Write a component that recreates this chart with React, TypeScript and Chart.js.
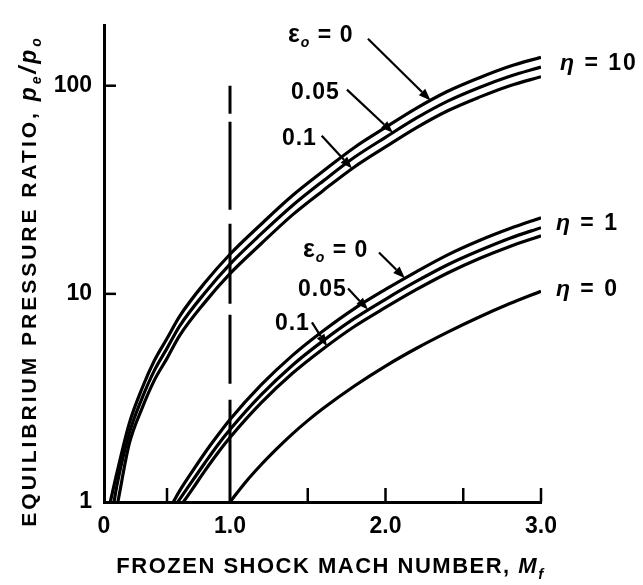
import React, { useEffect, useRef } from 'react';
import { Chart, registerables, LinearScale } from 'chart.js';

Chart.register(...registerables);

// ---------------- data ----------------
// eta = 10 family
const MACH_ETA10_EPS0 = [0.05, 0.1, 0.2, 0.3, 0.4, 0.5, 0.6, 0.8, 1.0, 1.2, 1.4, 1.6, 1.8, 2.0, 2.2, 2.4, 2.6, 2.8, 3.0];
const P_ETA10_EPS0 = [1.0, 1.36, 2.38, 3.49, 4.78, 6.1, 7.8, 11.3, 15.5, 21.6, 29.6, 38.9, 50.5, 63, 78, 94, 109, 124, 137];
const MACH_ETA10_EPS005 = [0.08, 0.1, 0.2, 0.3, 0.4, 0.5, 0.6, 0.8, 1.0, 1.2, 1.4, 1.6, 1.8, 2.0, 2.2, 2.4, 2.6, 2.8, 3.0];
const P_ETA10_EPS005 = [1.0, 1.18, 2.13, 3.13, 4.29, 5.47, 7.0, 10.1, 13.9, 19.4, 26.5, 34.9, 45.3, 56.5, 70, 84.3, 97.8, 111, 123];
const MACH_ETA10_EPS01 = [0.11, 0.2, 0.3, 0.4, 0.5, 0.6, 0.8, 1.0, 1.2, 1.4, 1.6, 1.8, 2.0, 2.2, 2.4, 2.6, 2.8, 3.0];
const P_ETA10_EPS01 = [1.0, 1.9, 2.8, 3.85, 4.9, 6.3, 9.1, 12.5, 17.4, 23.9, 31.4, 40.7, 50.8, 62.9, 75.8, 87.9, 100, 110.5];

// eta = 1 family
const MACH_ETA1_EPS0 = [0.55, 0.6, 0.7, 0.8, 0.9, 1.0, 1.2, 1.4, 1.6, 1.8, 2.0, 2.2, 2.4, 2.6, 2.8, 3.0];
const P_ETA1_EPS0 = [1.0, 1.13, 1.4, 1.72, 2.08, 2.49, 3.65, 5.05, 6.65, 8.5, 10.5, 12.8, 15.4, 18.0, 20.6, 23.2];
const MACH_ETA1_EPS005 = [0.585, 0.6, 0.7, 0.8, 0.9, 1.0, 1.2, 1.4, 1.6, 1.8, 2.0, 2.2, 2.4, 2.6, 2.8, 3.0];
const P_ETA1_EPS005 = [1.0, 1.03, 1.26, 1.54, 1.87, 2.23, 3.27, 4.53, 5.96, 7.62, 9.42, 11.5, 13.8, 16.1, 18.5, 20.8];
const MACH_ETA1_EPS01 = [0.63, 0.7, 0.8, 0.9, 1.0, 1.2, 1.4, 1.6, 1.8, 2.0, 2.2, 2.4, 2.6, 2.8, 3.0];
const P_ETA1_EPS01 = [1.0, 1.15, 1.41, 1.71, 2.04, 2.99, 4.14, 5.45, 6.97, 8.6, 10.5, 12.6, 14.75, 16.9, 19.0];

// eta = 0
const MACH_ETA0 = [1.0, 1.1, 1.2, 1.3, 1.4, 1.5, 1.6, 1.8, 2.0, 2.2, 2.4, 2.6, 2.8, 3.0];
const P_ETA0 = [1.0, 1.245, 1.51, 1.8, 2.12, 2.46, 2.82, 3.61, 4.5, 5.48, 6.55, 7.72, 8.98, 10.3];

// sonic (M = 1) dashed reference line
const SONIC_X = [1.0, 1.0];
const SONIC_Y = [100, 1];

// ticks
const X_TICKS = [0, 0.5, 1.0, 1.5, 2.0, 2.5, 3.0];
const X_TICK_LABELS = ['0', '', '1.0', '', '2.0', '', '3.0'];
const Y_TICKS = [1, 10, 100];
const Y_TICK_LABELS = ['1', '10', '100'];

// labels
const EPS_LABELS = ['0', '0.05', '0.1'];
const ETA_LABELS = ['10', '1', '0'];

// annotation anchors, in data units (Mach, pressure ratio); label anchor = left end of text baseline
const UPPER_ANNOT = [
  { label: [1.373, 163], from: [1.887, 168], to: [2.29, 85] },
  { label: [1.392, 85.9], from: [1.752, 95.7], to: [2.048, 59.5] },
  { label: [1.334, 52.1], from: [1.59, 57.5], to: [1.785, 40] },
];
const LOWER_ANNOT = [
  { label: [1.469, 15.1], from: [1.958, 15.8], to: [2.125, 11.9] },
  { label: [1.437, 9.79], from: [1.759, 10.6], to: [1.887, 8.4] },
  { label: [1.289, 6.69], from: [1.527, 7.3], to: [1.624, 5.6] },
];
const ETA_ANCHORS = [[3.122, 119], [3.096, 20.3], [3.096, 9.79]];

// ---------------- piecewise x scale (figure's x axis is stretched above M = 1) ----------------
const X_BREAK = 1.0;
const X_BREAK_FRACTION = 126 / 437;

class PiecewiseScale extends LinearScale {
  static id = 'piecewise';
  toDecimal(v: number) {
    const min = (this as any).min;
    const max = (this as any).max;
    if (v <= X_BREAK) return ((v - min) / (X_BREAK - min)) * X_BREAK_FRACTION;
    return X_BREAK_FRACTION + ((v - X_BREAK) / (max - X_BREAK)) * (1 - X_BREAK_FRACTION);
  }
  getPixelForValue(value: number) {
    if (value === null || value === undefined || isNaN(value)) return NaN;
    return (this as any).getPixelForDecimal(this.toDecimal(value));
  }
  getValueForPixel(pixel: number) {
    const d = (this as any).getDecimalForPixel(pixel);
    const min = (this as any).min;
    const max = (this as any).max;
    if (d <= X_BREAK_FRACTION) return min + (d / X_BREAK_FRACTION) * (X_BREAK - min);
    return X_BREAK + ((d - X_BREAK_FRACTION) / (1 - X_BREAK_FRACTION)) * (max - X_BREAK);
  }
}
Chart.register(PiecewiseScale as any);

const FONT = '"Liberation Sans", Arial, sans-serif';
const pts = (xs: number[], ys: number[]) => xs.map((x, i) => ({ x, y: ys[i] }));

function drawParts(
  ctx: CanvasRenderingContext2D,
  x: number,
  y: number,
  parts: { t: string; f: string; dy?: number }[],
  align: 'left' | 'center' = 'left',
) {
  let total = 0;
  for (const p of parts) {
    ctx.font = p.f;
    total += ctx.measureText(p.t).width;
  }
  let cx = align === 'center' ? x - total / 2 : x;
  for (const p of parts) {
    ctx.font = p.f;
    ctx.fillText(p.t, cx, y + (p.dy || 0));
    cx += ctx.measureText(p.t).width;
  }
}

function arrow(ctx: CanvasRenderingContext2D, x1: number, y1: number, x2: number, y2: number) {
  const ang = Math.atan2(y2 - y1, x2 - x1);
  const hl = 12;
  const hw = 4.5;
  const bx = x2 - hl * Math.cos(ang);
  const by = y2 - hl * Math.sin(ang);
  ctx.beginPath();
  ctx.moveTo(x1, y1);
  ctx.lineTo(bx, by);
  ctx.lineWidth = 2.2;
  ctx.stroke();
  ctx.beginPath();
  ctx.moveTo(x2, y2);
  ctx.lineTo(bx + hw * Math.sin(ang), by - hw * Math.cos(ang));
  ctx.lineTo(bx - hw * Math.sin(ang), by + hw * Math.cos(ang));
  ctx.closePath();
  ctx.fill();
}

const decorPlugin = {
  id: 'decor',
  afterDraw(chart: any) {
    const { ctx, chartArea } = chart;
    const xs = chart.scales.x;
    const ys = chart.scales.y;
    ctx.save();
    ctx.strokeStyle = '#000';
    ctx.fillStyle = '#000';
    ctx.lineCap = 'butt';

    // inward tick marks
    ctx.lineWidth = 2.5;
    for (const v of X_TICKS) {
      if (v === 0 || v === 1) continue;
      const px = xs.getPixelForValue(v);
      ctx.beginPath();
      ctx.moveTo(px, chartArea.bottom);
      ctx.lineTo(px, chartArea.bottom - 14);
      ctx.stroke();
    }
    for (const v of Y_TICKS) {
      if (v === 1) continue;
      const py = ys.getPixelForValue(v);
      ctx.beginPath();
      ctx.moveTo(chartArea.left, py);
      ctx.lineTo(chartArea.left + 12, py);
      ctx.stroke();
    }

    const main = `bold 23px ${FONT}`;
    const sub = `italic bold 14px ${FONT}`;
    ctx.textBaseline = 'alphabetic';
    (ctx as any).letterSpacing = '1px';

    const groups = [UPPER_ANNOT, LOWER_ANNOT];
    for (const g of groups) {
      g.forEach((a, i) => {
        const lx = xs.getPixelForValue(a.label[0]);
        const ly = ys.getPixelForValue(a.label[1]);
        if (i === 0) {
          drawParts(ctx, lx, ly, [
            { t: 'ε', f: `bold 25px ${FONT}` },
            { t: 'o', f: sub, dy: 5 },
            { t: ' = ' + EPS_LABELS[0], f: main },
          ]);
        } else {
          drawParts(ctx, lx, ly, [{ t: EPS_LABELS[i], f: main }]);
        }
        arrow(
          ctx,
          xs.getPixelForValue(a.from[0]),
          ys.getPixelForValue(a.from[1]),
          xs.getPixelForValue(a.to[0]),
          ys.getPixelForValue(a.to[1]),
        );
      });
    }

    (ctx as any).letterSpacing = '2px';
    ETA_ANCHORS.forEach((p, i) => {
      drawParts(ctx, xs.getPixelForValue(p[0]), ys.getPixelForValue(p[1]), [
        { t: 'η', f: `italic bold 23px ${FONT}` },
        { t: ' = ' + ETA_LABELS[i], f: main },
      ]);
    });

    // x-axis title
    (ctx as any).letterSpacing = '1.5px';
    const xMid = (chartArea.left + chartArea.right) / 2 + 8;
    drawParts(
      ctx,
      xMid,
      chartArea.bottom + 71,
      [
        { t: 'FROZEN SHOCK MACH NUMBER, ', f: `bold 22px ${FONT}` },
        { t: 'M', f: `italic bold 22px ${FONT}` },
        { t: 'f', f: `italic bold 15px ${FONT}`, dy: 6 },
      ],
      'center',
    );

    // y-axis title
    ctx.save();
    ctx.translate(36, (chartArea.top + chartArea.bottom) / 2 + 17);
    ctx.rotate(-Math.PI / 2);
    (ctx as any).letterSpacing = '3px';
    drawParts(
      ctx,
      0,
      0,
      [
        { t: 'EQUILIBRIUM PRESSURE RATIO, ', f: `bold 21px ${FONT}` },
        { t: 'p', f: `italic bold 23px ${FONT}` },
        { t: 'e', f: `italic bold 14px ${FONT}`, dy: 5 },
        { t: '/', f: `italic bold 24px ${FONT}` },
        { t: 'p', f: `italic bold 23px ${FONT}` },
        { t: 'o', f: `italic bold 14px ${FONT}`, dy: 5 },
      ],
      'center',
    );
    ctx.restore();

    ctx.restore();
  },
};

const curveStyle = {
  borderColor: '#000',
  borderWidth: 3.2,
  pointRadius: 0,
  fill: false,
  cubicInterpolationMode: 'monotone' as const,
};

export default function App() {
  const ref = useRef<HTMLCanvasElement>(null);
  useEffect(() => {
    const canvas = ref.current;
    if (!canvas) return;
    const chart = new Chart(canvas, {
      type: 'line',
      data: {
        datasets: [
          { ...curveStyle, data: pts(MACH_ETA10_EPS0, P_ETA10_EPS0) },
          { ...curveStyle, data: pts(MACH_ETA10_EPS005, P_ETA10_EPS005) },
          { ...curveStyle, data: pts(MACH_ETA10_EPS01, P_ETA10_EPS01) },
          { ...curveStyle, data: pts(MACH_ETA1_EPS0, P_ETA1_EPS0) },
          { ...curveStyle, data: pts(MACH_ETA1_EPS005, P_ETA1_EPS005) },
          { ...curveStyle, data: pts(MACH_ETA1_EPS01, P_ETA1_EPS01) },
          { ...curveStyle, data: pts(MACH_ETA0, P_ETA0) },
          {
            ...curveStyle,
            cubicInterpolationMode: 'default' as const,
            tension: 0,
            borderWidth: 3,
            borderDash: [28, 8, 88, 14, 80, 11, 69, 16, 120],
            data: pts(SONIC_X, SONIC_Y),
          },
        ],
      } as any,
      options: {
        animation: false,
        responsive: false,
        devicePixelRatio: 1,
        layout: { padding: { left: 0, right: 102, top: 17, bottom: 0 }, autoPadding: false } as any,
        plugins: { legend: { display: false }, tooltip: { enabled: false } },
        scales: {
          x: {
            type: 'piecewise' as any,
            min: 0,
            max: 3,
            bounds: 'data',
            grid: { display: false, drawTicks: false },
            border: { display: true, color: '#000', width: 3 },
            ticks: {
              autoSkip: false,
              maxRotation: 0,
              padding: 11,
              color: '#000',
              font: { family: FONT, size: 23, weight: 'bold' },
              callback: (_v: any, i: number) => X_TICK_LABELS[i],
            },
            afterBuildTicks: (s: any) => {
              s.ticks = X_TICKS.map((v) => ({ value: v }));
            },
            afterFit: (s: any) => {
              s.height = 83;
            },
          } as any,
          y: {
            type: 'logarithmic',
            min: 1,
            max: 194,
            bounds: 'data',
            grid: { display: false, drawTicks: false },
            border: { display: true, color: '#000', width: 3 },
            ticks: {
              autoSkip: false,
              padding: 12,
              color: '#000',
              font: { family: FONT, size: 23, weight: 'bold' },
              callback: (_v: any, i: number) => Y_TICK_LABELS[i],
            },
            afterBuildTicks: (s: any) => {
              s.ticks = Y_TICKS.map((v) => ({ value: v }));
            },
            afterFit: (s: any) => {
              s.width = 104;
            },
          } as any,
        },
      },
      plugins: [decorPlugin],
    });
    return () => chart.destroy();
  }, []);
  return (
    <div style={{ position: 'absolute', left: 0, top: 0, width: 643, height: 585, background: '#fff' }}>
      <canvas ref={ref} width={643} height={585} style={{ display: 'block', width: 643, height: 585 }} />
    </div>
  );
}
